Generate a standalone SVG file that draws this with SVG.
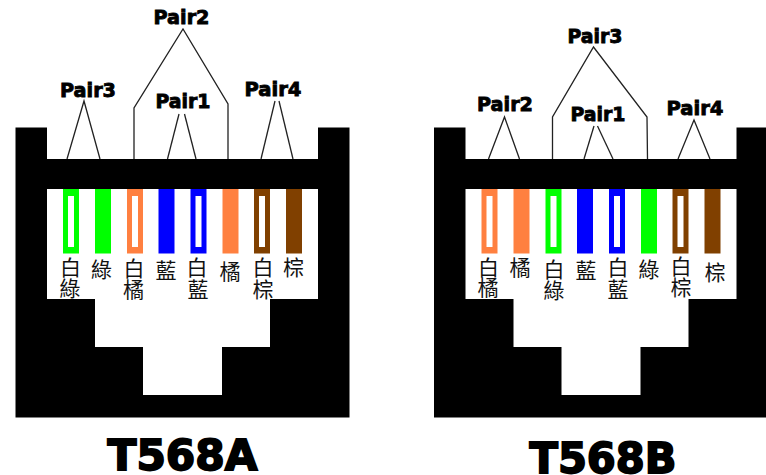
<svg xmlns="http://www.w3.org/2000/svg" width="766" height="475" viewBox="0 0 766 475">
<defs>
<style>
.g{fill:#00ff00}.o{fill:#ff8040}.b{fill:#0000ff}.n{fill:#804000}
.w{fill:#fff}
.c{fill:none;stroke:#222;stroke-width:1.3}
.p{font-family:"DejaVu Sans","Liberation Sans",sans-serif;font-weight:700;font-size:20px;fill:#000;stroke:#000;stroke-width:.9}
.t{font-family:"DejaVu Sans","Liberation Sans",sans-serif;font-weight:700;font-size:42px;fill:#000;stroke:#000;stroke-width:1.8}
.k{font-family:"Noto Sans CJK TC","Noto Sans CJK SC",sans-serif;font-size:21px;fill:#111;text-anchor:middle}
</style>
<path id="plug" d="M0 0H31.500V31.500H302.500V0H334V290H0ZM31.500 61.500V171.500H79.500V219.500H127.500V267.500H206.500V219.500H254.500V171.500H302.500V61.500Z" fill-rule="evenodd"/>
</defs>
<rect width="766" height="475" fill="#fff"/>
<g id="connectors">
<polyline class="c" points="67,159 84,101 100,159"/>
<polyline class="c" points="134,159 134,108 183,29 228,104 228,159"/>
<polyline class="c" points="167.500,159 179,114"/>
<polyline class="c" points="184.500,114 196,159"/>
<polyline class="c" points="261,159 275,101"/>
<polyline class="c" points="279,101 293,159"/>
<polyline class="c" points="488.500,159 504.500,117 519.500,159"/>
<polyline class="c" points="552.500,159 552.500,117 593.500,47 647,117 647.500,159"/>
<polyline class="c" points="584,159 594,126"/>
<polyline class="c" points="597.500,126 613,159"/>
<polyline class="c" points="678,159 694,120 710,159"/>
</g>
<g id="plug-a">
<use href="#plug" x="15.500" y="127.500"/>
<rect class="g" x="63" y="189" width="16" height="64.500"/><rect class="w" x="68" y="196" width="6" height="51"/>
<rect class="g" x="95" y="189" width="16" height="64.500"/>
<rect class="o" x="127" y="189" width="16" height="64.500"/><rect class="w" x="132" y="196" width="6" height="51"/>
<rect class="b" x="158.500" y="189" width="16" height="64.500"/>
<rect class="b" x="190.500" y="189" width="16" height="64.500"/><rect class="w" x="195.500" y="196" width="6" height="51"/>
<rect class="o" x="222.500" y="189" width="16" height="64.500"/>
<rect class="n" x="254" y="189" width="16" height="64.500"/><rect class="w" x="259" y="196" width="6" height="51"/>
<rect class="n" x="286" y="189" width="16" height="64.500"/>
<text class="k"><tspan x="70.500" y="275">白</tspan><tspan x="70" y="296">綠</tspan></text>
<text class="k" x="101.500" y="277">綠</text>
<text class="k"><tspan x="134" y="276">白</tspan><tspan x="133.500" y="297">橘</tspan></text>
<text class="k" x="166" y="278">藍</text>
<text class="k"><tspan x="197" y="275">白</tspan><tspan x="198" y="297">藍</tspan></text>
<text class="k" x="230" y="279">橘</text>
<text class="k"><tspan x="263" y="275">白</tspan><tspan x="263" y="297">棕</tspan></text>
<text class="k" x="293.500" y="275">棕</text>
</g>
<g id="plug-b">
<use href="#plug" x="434" y="127.500"/>
<rect class="o" x="481.500" y="189" width="16" height="64.500"/><rect class="w" x="486.500" y="196" width="6" height="51"/>
<rect class="o" x="513.500" y="189" width="16" height="64.500"/>
<rect class="g" x="545.500" y="189" width="16" height="64.500"/><rect class="w" x="550.500" y="196" width="6" height="51"/>
<rect class="b" x="577" y="189" width="16" height="64.500"/>
<rect class="b" x="609" y="189" width="16" height="64.500"/><rect class="w" x="614" y="196" width="6" height="51"/>
<rect class="g" x="641" y="189" width="16" height="64.500"/>
<rect class="n" x="672.500" y="189" width="16" height="64.500"/><rect class="w" x="677.500" y="196" width="6" height="51"/>
<rect class="n" x="704.500" y="189" width="16" height="64.500"/>
<text class="k"><tspan x="488.500" y="275">白</tspan><tspan x="488" y="295">橘</tspan></text>
<text class="k" x="520" y="275">橘</text>
<text class="k"><tspan x="554" y="277">白</tspan><tspan x="554" y="298">綠</tspan></text>
<text class="k" x="586" y="278">藍</text>
<text class="k"><tspan x="618" y="275">白</tspan><tspan x="618" y="297">藍</tspan></text>
<text class="k" x="649" y="277">綠</text>
<text class="k"><tspan x="681" y="274">白</tspan><tspan x="681" y="295">棕</tspan></text>
<text class="k" x="715" y="280">棕</text>
</g>
<g id="labels-a">
<text class="p" x="153.500" y="24" textLength="56" lengthAdjust="spacingAndGlyphs">Pair2</text>
<text class="p" x="60" y="97" textLength="56" lengthAdjust="spacingAndGlyphs">Pair3</text>
<text class="p" x="155.500" y="108" textLength="55" lengthAdjust="spacingAndGlyphs">Pair1</text>
<text class="p" x="244.500" y="96" textLength="57" lengthAdjust="spacingAndGlyphs">Pair4</text>
<text class="t" x="107.500" y="469.500" textLength="150" lengthAdjust="spacingAndGlyphs">T568A</text>
</g>
<g id="labels-b">
<text class="p" x="567.500" y="43" textLength="55" lengthAdjust="spacingAndGlyphs">Pair3</text>
<text class="p" x="477" y="111" textLength="56" lengthAdjust="spacingAndGlyphs">Pair2</text>
<text class="p" x="570.500" y="121" textLength="55" lengthAdjust="spacingAndGlyphs">Pair1</text>
<text class="p" x="666.500" y="115" textLength="57" lengthAdjust="spacingAndGlyphs">Pair4</text>
<text class="t" x="529.500" y="472.500" textLength="147" lengthAdjust="spacingAndGlyphs">T568B</text>
</g>
</svg>
